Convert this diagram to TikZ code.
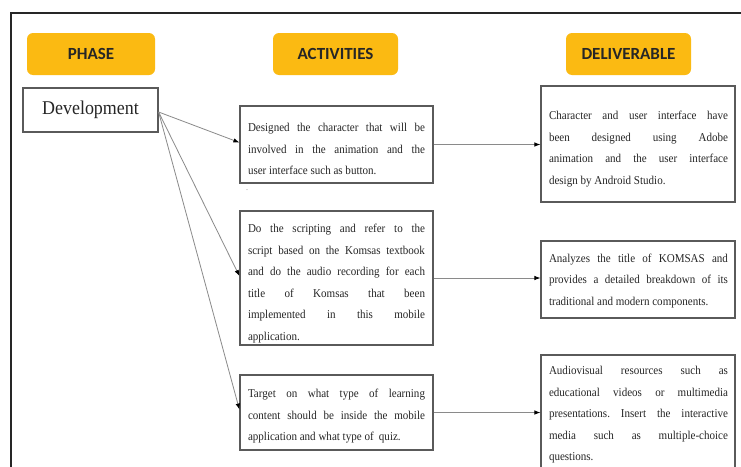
\documentclass[tikz,border=0pt]{standalone}
\usepackage{fontspec}
\setmainfont{Liberation Serif}
\newfontfamily\bodyfont[FakeStretch=0.92]{Liberation Serif}
\newfontfamily\devfont[FakeStretch=0.92]{Liberation Serif}
\newfontfamily\hdrfont{Carlito}
\usetikzlibrary{arrows.meta,calc}
\definecolor{gold}{HTML}{FBBA12}
\definecolor{hdrtext}{HTML}{262626}
\definecolor{boxgray}{HTML}{5A5A5A}
\definecolor{linegray}{HTML}{8A8A8A}
\definecolor{textgray}{HTML}{262626}
\begin{document}
\frenchspacing
\tolerance=10000 \hbadness=10000 \hyphenpenalty=10000 \exhyphenpenalty=10000
\begin{tikzpicture}[x=1pt,y=-1pt,
  hdr/.style={fill=gold, rounded corners=6pt, minimum height=42pt, inner sep=0pt,
    font=\hdrfont\bfseries\fontsize{17}{20}\selectfont, text=hdrtext},
  boxnode/.style={draw=boxgray, line width=1.2pt, inner sep=0pt, minimum width=193pt},
  atxt/.style={text width=177pt, align=justify, inner sep=0pt,
    font=\bodyfont\fontsize{12}{21.5}\selectfont, text=textgray},
  dtxt/.style={text width=179pt, align=justify, inner sep=0pt,
    font=\bodyfont\fontsize{12}{21.5}\selectfont, text=textgray},
  conn/.style={draw=linegray, line width=0.8pt, -{Latex[length=6pt,width=4.5pt,color=black]}}
]
\useasboundingbox (0,0) rectangle (741,466);
\clip (0,0) rectangle (741,466);
\fill[white] (0,0) rectangle (741,466);
% outer frame
\draw[line width=1.2pt, color=black!85] (11,480) -- (11,13) -- (760,13);

% headers
\node[hdr, minimum width=128pt] (hphase) at (91,54) {PHASE};
\node[hdr, minimum width=125pt] (hact) at (335.5,54) {ACTIVITIES};
\node[hdr, minimum width=125pt] (hdel) at (628.5,54) {DELIVERABLE};

% phase box
\node[draw=boxgray, line width=1.2pt, minimum width=135pt, minimum height=44pt, inner sep=0pt,
  font=\devfont\fontsize{19.5}{22}\selectfont, text=textgray] (dev) at (90.5,110) {Development};

% activity boxes
\node[boxnode, minimum height=77pt] (a1) at (336.5,144.5) {};
\node[boxnode, minimum height=134pt] (a2) at (336.5,278) {};
\node[boxnode, minimum height=75pt] (a3) at (336.5,412.5) {};
\node[atxt] (a1t) at (336.5,149) {Designed the character that will be\linebreak involved in the animation and the\linebreak user interface such as button.};
\node[atxt] (a2t) at (336.5,283.5) {Do the scripting and refer to the\linebreak script based on the Komsas textbook\linebreak and do the audio recording for each\linebreak title of Komsas that been\linebreak implemented in this mobile\linebreak application.};
\node[atxt] (a3t) at (336.5,416.5) {Target on what type of learning\linebreak content should be inside the mobile\linebreak application and what type of\hspace{2.5pt} quiz.};
\node[font=\fontsize{8}{8}\selectfont, text=gray, inner sep=0pt] (dot) at (247,190) {.};

% deliverable boxes
\node[boxnode, minimum width=194pt, minimum height=116pt] (d1) at (638,144) {};
\node[boxnode, minimum width=194pt, minimum height=77pt] (d2) at (638,279.5) {};
\node[boxnode, minimum width=194pt, minimum height=117pt] (d3) at (638,413.5) {};
\node[dtxt] (d1t) at (638.5,149) {Character and user interface have\linebreak been designed using Adobe\linebreak animation and the user interface\linebreak design by Android Studio.};
\node[dtxt] (d2t) at (638.5,281) {Analyzes the title of KOMSAS and\linebreak provides a detailed breakdown of its\linebreak traditional and modern components.};
\node[dtxt] (d3t) at (638.5,415) {Audiovisual resources such as\linebreak educational videos or multimedia\linebreak presentations. Insert the interactive\linebreak media such as multiple-choice\linebreak questions.};

% connectors
\draw[conn] ([yshift=-2pt]dev.east) -- ([yshift=2pt]a1.west);
\draw[conn] ([yshift=-2pt]dev.east) -- ([yshift=2pt]a2.west);
\draw[conn] ([yshift=-2pt]dev.east) -- ([yshift=3pt]a3.west);
\draw[conn] (a1.east) -- (a1.east -| d1.west);
\draw[conn] (a2.east) -- (a2.east -| d2.west);
\draw[conn] (a3.east) -- (a3.east -| d3.west);
\end{tikzpicture}
\end{document}
